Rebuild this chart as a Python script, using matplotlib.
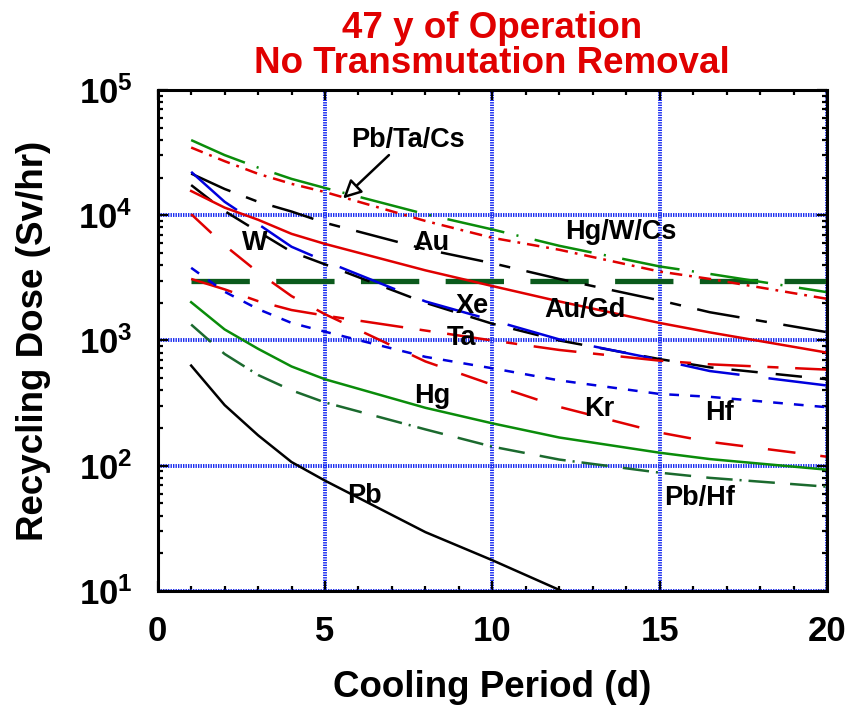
import numpy as np
import matplotlib
matplotlib.use("Agg")
from matplotlib import pyplot as plt
from matplotlib.ticker import FixedLocator, MultipleLocator, LogLocator, FuncFormatter, NullFormatter

plt.rcParams['font.family'] = ['Liberation Sans', 'DejaVu Sans']
plt.rcParams['font.weight'] = 'bold'
plt.rcParams['mathtext.fontset'] = 'custom'
plt.rcParams['mathtext.rm'] = 'Liberation Sans:bold'
plt.rcParams['mathtext.bf'] = 'Liberation Sans:bold'
plt.rcParams['lines.scale_dashes'] = False

# cooling period (d)
cooling_days = [1, 2, 3, 4, 5, 8, 10, 12, 15, 16.5, 20]

# recycling dose (Sv/hr)
dose_hg_w_cs = [39800, 30200, 24000, 19500, 16500, 10200, 7700, 5700, 3900, 3400, 2430]
dose_pb_ta_cs = [34700, 27000, 21400, 17800, 15300, 9000, 6600, 5300, 3550, 3100, 2150]
dose_au = [21500, 16200, 12800, 10700, 8700, 5350, 4140, 3100, 2090, 1680, 1165]
dose_w = [17400, 10800, 7400, 5100, 4050, 2000, 1360, 1000, 710, 610, 490]
dose_xe = [22200, 12800, 8500, 5600, 4300, 2050, 1450, 1020, 700, 570, 437]
dose_au_gd = [15600, 11500, 9200, 7100, 5900, 3630, 2720, 2050, 1380, 1160, 800]
dose_kr = [10200, 5750, 3500, 2260, 1620, 680, 443, 295, 184, 155, 118]
dose_ta = [3100, 2560, 2060, 1750, 1580, 1200, 1000, 840, 690, 645, 585]
dose_hf = [3800, 2450, 1780, 1380, 1175, 740, 600, 480, 374, 355, 293]
dose_hg = [2020, 1225, 858, 620, 490, 290, 218, 168, 127, 113, 93]
dose_pb_hf = [1340, 780, 530, 400, 320, 195, 142, 112, 88, 80, 68]
dose_pb = [630, 305, 175, 107, 76, 29.5, 17.6, 10.2, 4.6, 3.2, 1.5]

limit_days = [1, 20]
limit_dose = [3000, 3000]

RED = '#e00000'
BLUE = '#0000dd'
GREEN = '#0a8c0a'
DKGREEN = '#1b6a2e'

fig = plt.figure(figsize=(8.46, 7.14), dpi=100)
ax = fig.add_axes([0.1864, 0.1723, 0.7911, 0.7017])

ax.plot(limit_days, limit_dose, color='#0b5a1c', lw=3.8, ls=(0, (42, 19)), zorder=3)

series = [
    (dose_hg_w_cs, GREEN, (0, (42, 9, 1.5, 12))),
    (dose_pb_ta_cs, RED, (0, (9, 5, 2, 5))),
    (dose_au, 'black', (0, (31, 12, 8, 12))),
    (dose_w, 'black', (0, (19, 13))),
    (dose_xe, BLUE, (0, (43, 21))),
    (dose_au_gd, RED, '-'),
    (dose_kr, RED, (0, (20, 18))),
    (dose_ta, RED, (0, (31, 12, 8, 12))),
    (dose_hf, BLUE, (0, (7, 8))),
    (dose_hg, GREEN, '-'),
    (dose_pb_hf, DKGREEN, (0, (19, 11, 19, 5, 1.5, 5))),
    (dose_pb, 'black', '-'),
]
for dose, col, style in series:
    ax.plot(cooling_days, dose, color=col, ls=style, lw=1.8, zorder=4)

ax.set_yscale('log')
ax.set_xlim(0, 20)
ax.set_ylim(10, 1e5)

ax.xaxis.set_major_locator(FixedLocator([0, 5, 10, 15, 20]))
ax.xaxis.set_minor_locator(MultipleLocator(1))
ax.yaxis.set_major_locator(LogLocator(base=10, numticks=10))
ax.yaxis.set_minor_locator(LogLocator(base=10, subs=np.arange(2, 10), numticks=20))
ax.yaxis.set_minor_formatter(NullFormatter())
ax.yaxis.set_major_formatter(FuncFormatter(lambda v, p: r'$\mathbf{10^{%d}}$' % round(np.log10(v))))

ax.grid(True, which='major', color='#1a2cf0', ls=(0, (1, 0.8)), lw=2.8, zorder=1)
ax.set_axisbelow(True)

ax.tick_params(which='both', direction='in', top=True, right=True, width=1.6, colors='black')
ax.tick_params(which='major', length=7.5, labelsize=25, pad=17)
ax.tick_params(which='minor', length=3.8)
ax.tick_params(axis='y', which='major', pad=18)
for sp in ax.spines.values():
    sp.set_linewidth(2.2)
    sp.set_zorder(5)

ax.set_xlabel('Cooling Period (d)', fontsize=26.5, fontweight='bold', labelpad=16)
ax.set_ylabel('Recycling Dose (Sv/hr)', fontsize=26.5, fontweight='bold', labelpad=20)
ax.set_title('47 y of Operation\nNo Transmutation Removal', color=RED, fontsize=26.5,
             fontweight='bold', linespacing=1.0, pad=12)

labels = [
    ('W', 2.9, 5980), ('Au', 8.19, 5980), ('Hg/W/Cs', 13.85, 7350), ('Xe', 9.39, 1900),
    ('Au/Gd', 12.76, 1740), ('Ta', 9.09, 1040), ('Hg', 8.19, 363), ('Kr', 13.2, 282),
    ('Hf', 16.8, 262), ('Pb', 6.19, 57), ('Pb/Hf', 16.2, 55), ('Pb/Ta/Cs', 7.47, 39800),
]
for txt, xd, yd in labels:
    ax.text(xd, yd, txt, fontsize=19.5, fontweight='bold', ha='center', va='center', zorder=6)

ax.annotate('', xy=(5.54, 13600), xytext=(6.91, 30200),
            arrowprops=dict(arrowstyle='-|>,head_length=1.1,head_width=0.55',
                            fc='white', ec='black', lw=1.8, shrinkA=0, shrinkB=0),
            zorder=6)

fig.savefig('out.png', dpi=100)
